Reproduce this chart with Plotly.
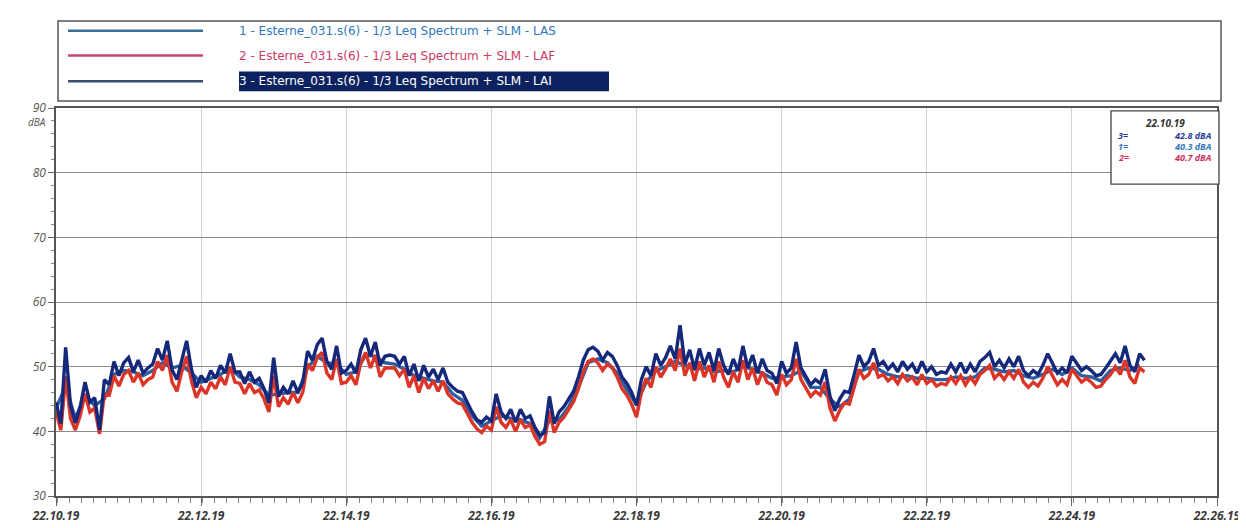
import plotly.graph_objects as go
import pandas as pd

# ---- data ----
start_time = "2019-10-22 22:10:19"
x_tick_labels = ["22.10.19", "22.12.19", "22.14.19", "22.16.19", "22.18.19",
                 "22.20.19", "22.22.19", "22.24.19", "22.26.19"]
y_ticks = [30, 40, 50, 60, 70, 80, 90]

series_names = [
    "1 - Esterne_031.s(6) - 1/3 Leq Spectrum + SLM - LAS",
    "2 - Esterne_031.s(6) - 1/3 Leq Spectrum + SLM - LAF",
    "3 - Esterne_031.s(6) - 1/3 Leq Spectrum + SLM - LAI",
]
cursor_time = "22.10.19"
cursor_values = [("3=", "42.8 dBA"), ("1=", "40.3 dBA"), ("2=", "40.7 dBA")]

# LAI, sampled every 4 s
LAI = [44.5, 41.2, 53.0, 44.0, 41.3, 43.8, 47.6, 44.5, 45.2, 40.2,
       48.0, 47.2, 50.8, 48.6, 50.6, 51.4, 49.2, 51.0, 49.0, 49.8,
       50.4, 52.8, 51.0, 54.0, 49.5, 48.0, 51.0, 54.0, 49.6, 46.8,
       48.6, 47.6, 49.4, 48.2, 50.2, 49.0, 52.0, 49.2, 49.2, 47.4,
       49.2, 47.6, 48.2, 46.6, 44.4, 51.4, 45.4, 46.8, 45.8, 47.8,
       46.0, 47.6, 52.4, 51.0, 53.4, 54.4, 50.8, 49.6, 53.2, 49.0,
       49.4, 50.4, 49.0, 52.6, 54.4, 51.6, 53.8, 50.2, 51.6, 51.8,
       51.6, 50.4, 51.6, 48.6, 50.4, 47.8, 50.2, 48.4, 49.6, 48.0,
       49.8, 47.6, 46.8, 46.2, 46.0, 44.4, 43.0, 41.8, 41.4, 42.2,
       41.6, 45.8, 43.0, 42.0, 43.4, 41.4, 43.4, 42.0, 42.4, 40.6,
       39.4, 39.8, 45.4, 41.2, 43.0, 43.8, 45.0, 46.2, 48.4, 51.0,
       52.6, 53.0, 52.4, 51.0, 52.2, 51.6, 50.2, 48.4, 47.4, 46.0,
       44.0, 48.0, 50.0, 48.6, 52.0, 50.2, 51.4, 53.2, 51.2, 56.4,
       50.4, 52.6, 49.6, 52.8, 50.2, 52.2, 49.4, 52.8, 50.2, 48.8,
       51.2, 49.4, 53.2, 49.8, 51.8, 49.0, 51.2, 49.4, 49.0, 47.4,
       50.8, 49.0, 49.8, 53.8, 49.8, 48.6, 47.2, 48.0, 47.4, 49.6,
       45.4, 43.2, 45.0, 46.2, 46.0, 48.8, 51.8, 50.0, 50.8, 52.8,
       50.2, 50.8, 49.6, 50.4, 49.2, 50.8, 49.6, 50.4, 49.0, 50.8,
       49.2, 50.0, 48.8, 49.2, 49.0, 50.4, 49.2, 50.6, 49.0, 50.4,
       49.2, 50.8, 51.4, 52.2, 50.0, 51.0, 49.8, 51.2, 50.0, 51.6,
       49.4, 48.6, 49.4, 48.8, 50.2, 52.0, 50.4, 49.0, 49.8, 49.0,
       51.6, 50.4, 49.4, 50.0, 49.4, 48.6, 48.8, 49.8, 50.8, 52.0,
       50.6, 53.2, 50.2, 49.2, 52.0, 51.0]

# LAF, sampled every 4 s
LAF = [43.0, 40.2, 48.5, 42.0, 40.2, 42.4, 45.8, 43.0, 43.6, 39.6,
       45.8, 45.6, 48.6, 47.0, 48.8, 49.4, 47.6, 49.0, 47.2, 48.0,
       48.4, 50.8, 49.4, 51.8, 47.6, 46.2, 49.2, 51.6, 47.8, 45.2,
       46.8, 45.8, 47.6, 46.6, 48.4, 47.2, 50.0, 47.6, 47.4, 45.8,
       47.4, 46.0, 46.4, 45.0, 43.0, 48.6, 43.8, 45.2, 44.2, 46.0,
       44.4, 46.0, 50.4, 49.4, 51.4, 52.2, 49.0, 48.0, 51.2, 47.4,
       47.6, 48.6, 47.2, 50.6, 52.2, 49.8, 51.8, 48.4, 49.8, 49.8,
       49.8, 48.6, 49.6, 46.8, 48.6, 46.0, 48.2, 46.6, 47.8, 46.2,
       47.8, 45.8, 45.0, 44.4, 44.2, 42.8, 41.4, 40.4, 39.8, 40.8,
       40.2, 43.8, 41.4, 40.6, 41.8, 40.0, 41.8, 40.6, 41.0, 39.2,
       38.0, 38.4, 43.2, 39.8, 41.4, 42.2, 43.4, 44.6, 46.6, 49.2,
       50.8, 51.2, 50.6, 49.4, 50.4, 49.8, 48.4, 46.6, 45.6, 44.2,
       42.2, 46.0, 48.2, 46.8, 50.0, 48.4, 49.6, 51.2, 49.4, 52.8,
       48.6, 50.6, 47.8, 50.8, 48.4, 50.2, 47.6, 50.8, 48.4, 46.8,
       49.2, 47.6, 51.0, 48.0, 49.8, 47.2, 49.2, 47.6, 47.2, 45.6,
       48.8, 47.2, 48.0, 51.2, 48.0, 46.8, 45.4, 46.2, 45.6, 47.6,
       43.6, 41.6, 43.2, 44.4, 44.2, 46.8, 49.6, 48.2, 48.8, 50.6,
       48.4, 48.8, 47.8, 48.4, 47.4, 48.8, 47.8, 48.4, 47.2, 48.8,
       47.4, 48.0, 47.0, 47.4, 47.2, 48.4, 47.4, 48.6, 47.2, 48.4,
       47.4, 48.8, 49.4, 50.2, 48.2, 49.0, 48.0, 49.2, 48.2, 49.6,
       47.6, 46.8, 47.6, 47.0, 48.2, 50.0, 48.6, 47.2, 48.0, 47.2,
       49.6, 48.6, 47.6, 48.2, 47.6, 46.8, 47.0, 48.0, 48.8, 50.0,
       48.8, 51.0, 48.4, 47.4, 49.8, 49.2]

# LAS, sampled every 8 s
LAS = [43.5, 47.0, 42.0, 45.5, 44.0, 45.0, 48.8, 49.4, 49.2, 48.6,
       49.4, 50.6, 49.8, 50.2, 49.0, 47.6, 48.2, 48.8, 49.8, 48.4,
       48.0, 47.2, 45.6, 45.8, 46.0, 46.0, 49.8, 51.6, 50.6, 50.4,
       48.8, 49.2, 51.8, 51.6, 50.6, 50.4, 49.6, 48.6, 48.2, 47.8,
       47.6, 45.8, 44.8, 42.4, 40.8, 41.6, 42.4, 42.0, 41.8, 41.2,
       39.0, 41.6, 41.8, 43.8, 46.8, 50.6, 51.2, 50.6, 49.0, 46.4,
       44.2, 47.6, 49.4, 50.0, 50.8, 50.2, 49.6, 49.8, 49.2, 49.4,
       49.2, 50.0, 49.6, 49.0, 48.2, 48.4, 48.6, 49.4, 46.8, 46.8,
       45.0, 43.8, 45.0, 49.2, 49.8, 49.6, 48.8, 48.4, 48.6, 48.2,
       48.2, 48.0, 48.0, 48.4, 48.2, 48.4, 49.8, 49.6, 49.2, 49.4,
       48.6, 48.2, 48.8, 49.6, 48.8, 49.8, 48.6, 48.4, 47.8, 49.4,
       49.8, 49.4, 50.2]

t_fast = pd.date_range(start_time, periods=len(LAI), freq="4s")
t_slow = pd.date_range(start_time, periods=len(LAS), freq="8s")

colors = ["#2d5fa0", "#dc3426", "#15287a"]
legend_line_colors = ["#3b6f95", "#c8466a", "#34506e"]
legend_text_colors = ["#2f78bb", "#cf3a62", "#ffffff"]

fig = go.Figure()
fig.add_trace(go.Scatter(x=t_slow, y=LAS, mode="lines", name=series_names[0],
                         line=dict(color=colors[0], width=3.4)))
fig.add_trace(go.Scatter(x=t_fast, y=LAF, mode="lines", name=series_names[1],
                         line=dict(color=colors[1], width=3.4)))
fig.add_trace(go.Scatter(x=t_fast, y=LAI, mode="lines", name=series_names[2],
                         line=dict(color=colors[2], width=3.4)))

L, R, T, B = 48, 37, 100, 36
W, H = 1246, 528
PW, PH = W - L - R, H - T - B


def xp(px):
    return (px - L) / PW


def yp(py):
    return (H - B - py) / PH


tickvals = pd.date_range(start_time, periods=len(x_tick_labels), freq="120s")

fig.update_layout(
    width=W, height=H,
    margin=dict(l=L, r=R, t=T, b=B),
    paper_bgcolor="white", plot_bgcolor="white",
    showlegend=False,
    xaxis=dict(
        type="date",
        range=[tickvals[0], tickvals[-1]],
        tickvals=tickvals, ticktext=x_tick_labels,
        showgrid=True, gridcolor="#d2d2d2", gridwidth=1,
        showline=True, linecolor="#555555", linewidth=1.5, mirror=True,
        ticks="outside", ticklen=8, tickcolor="#666666",
        tickfont=dict(family="Open Sans", size=12, color="#3a3a3a",
                      style="italic", weight="bold"),
        minor=dict(dtick=10000, ticks="outside", ticklen=5,
                   tickcolor="#888888", showgrid=False),
        zeroline=False,
    ),
    yaxis=dict(
        range=[30, 90],
        tickvals=y_ticks,
        showgrid=True, gridcolor="#8a8a8a", gridwidth=1.3,
        showline=True, linecolor="#555555", linewidth=1.5, mirror=True,
        ticks="outside", ticklen=6, tickcolor="#666666",
        tickfont=dict(family="Open Sans", size=12, color="#555555", style="italic"),
        minor=dict(dtick=2, ticks="outside", ticklen=3,
                   tickcolor="#888888", showgrid=False),
        zeroline=False,
    ),
)

shapes = []
annotations = []

# custom legend box
shapes.append(dict(type="rect", xref="paper", yref="paper",
                   x0=xp(50), x1=xp(1213), y0=yp(93), y1=yp(12),
                   line=dict(color="#555555", width=1.5), fillcolor="white"))
rows_py = [22, 47, 73]
for k in range(3):
    shapes.append(dict(type="line", xref="paper", yref="paper",
                       x0=xp(60), x1=xp(195), y0=yp(rows_py[k]), y1=yp(rows_py[k]),
                       line=dict(color=legend_line_colors[k], width=2.5)))
shapes.append(dict(type="rect", xref="paper", yref="paper",
                   x0=xp(231), x1=xp(601), y0=yp(83), y1=yp(63),
                   line=dict(width=0), fillcolor="#0c2260"))
for k in range(3):
    annotations.append(dict(xref="paper", yref="paper", x=xp(229), y=yp(rows_py[k]),
                            xanchor="left", yanchor="middle", showarrow=False,
                            text=series_names[k],
                            font=dict(family="DejaVu Sans", size=12,
                                      color=legend_text_colors[k])))

# cursor value box
shapes.append(dict(type="rect", xref="paper", yref="paper",
                   x0=xp(1103), x1=xp(1211), y0=yp(177), y1=yp(103),
                   line=dict(color="#444444", width=1.3), fillcolor="white"))
annotations.append(dict(xref="paper", yref="paper", x=xp(1157), y=yp(115),
                        xanchor="center", yanchor="middle", showarrow=False,
                        text=cursor_time,
                        font=dict(family="Open Sans", size=10, color="#333333",
                                  style="italic", weight="bold")))
cur_colors = ["#2a3a9a", "#2f78bb", "#d03060"]
for k, (lab, val) in enumerate(cursor_values):
    py = 128 + 11 * k
    annotations.append(dict(xref="paper", yref="paper", x=xp(1108), y=yp(py),
                            xanchor="left", yanchor="middle", showarrow=False,
                            text=lab,
                            font=dict(family="Open Sans", size=9, color=cur_colors[k],
                                      style="italic", weight="bold")))
    annotations.append(dict(xref="paper", yref="paper", x=xp(1206), y=yp(py),
                            xanchor="right", yanchor="middle", showarrow=False,
                            text=val,
                            font=dict(family="Open Sans", size=9, color=cur_colors[k],
                                      style="italic", weight="bold")))

# y-axis unit
annotations.append(dict(xref="paper", yref="paper", x=xp(40), y=yp(114),
                        xanchor="right", yanchor="middle", showarrow=False,
                        text="dBA",
                        font=dict(family="Open Sans", size=10, color="#555555",
                                  style="italic")))

fig.update_layout(shapes=shapes, annotations=annotations)
fig.write_html("out.html")
